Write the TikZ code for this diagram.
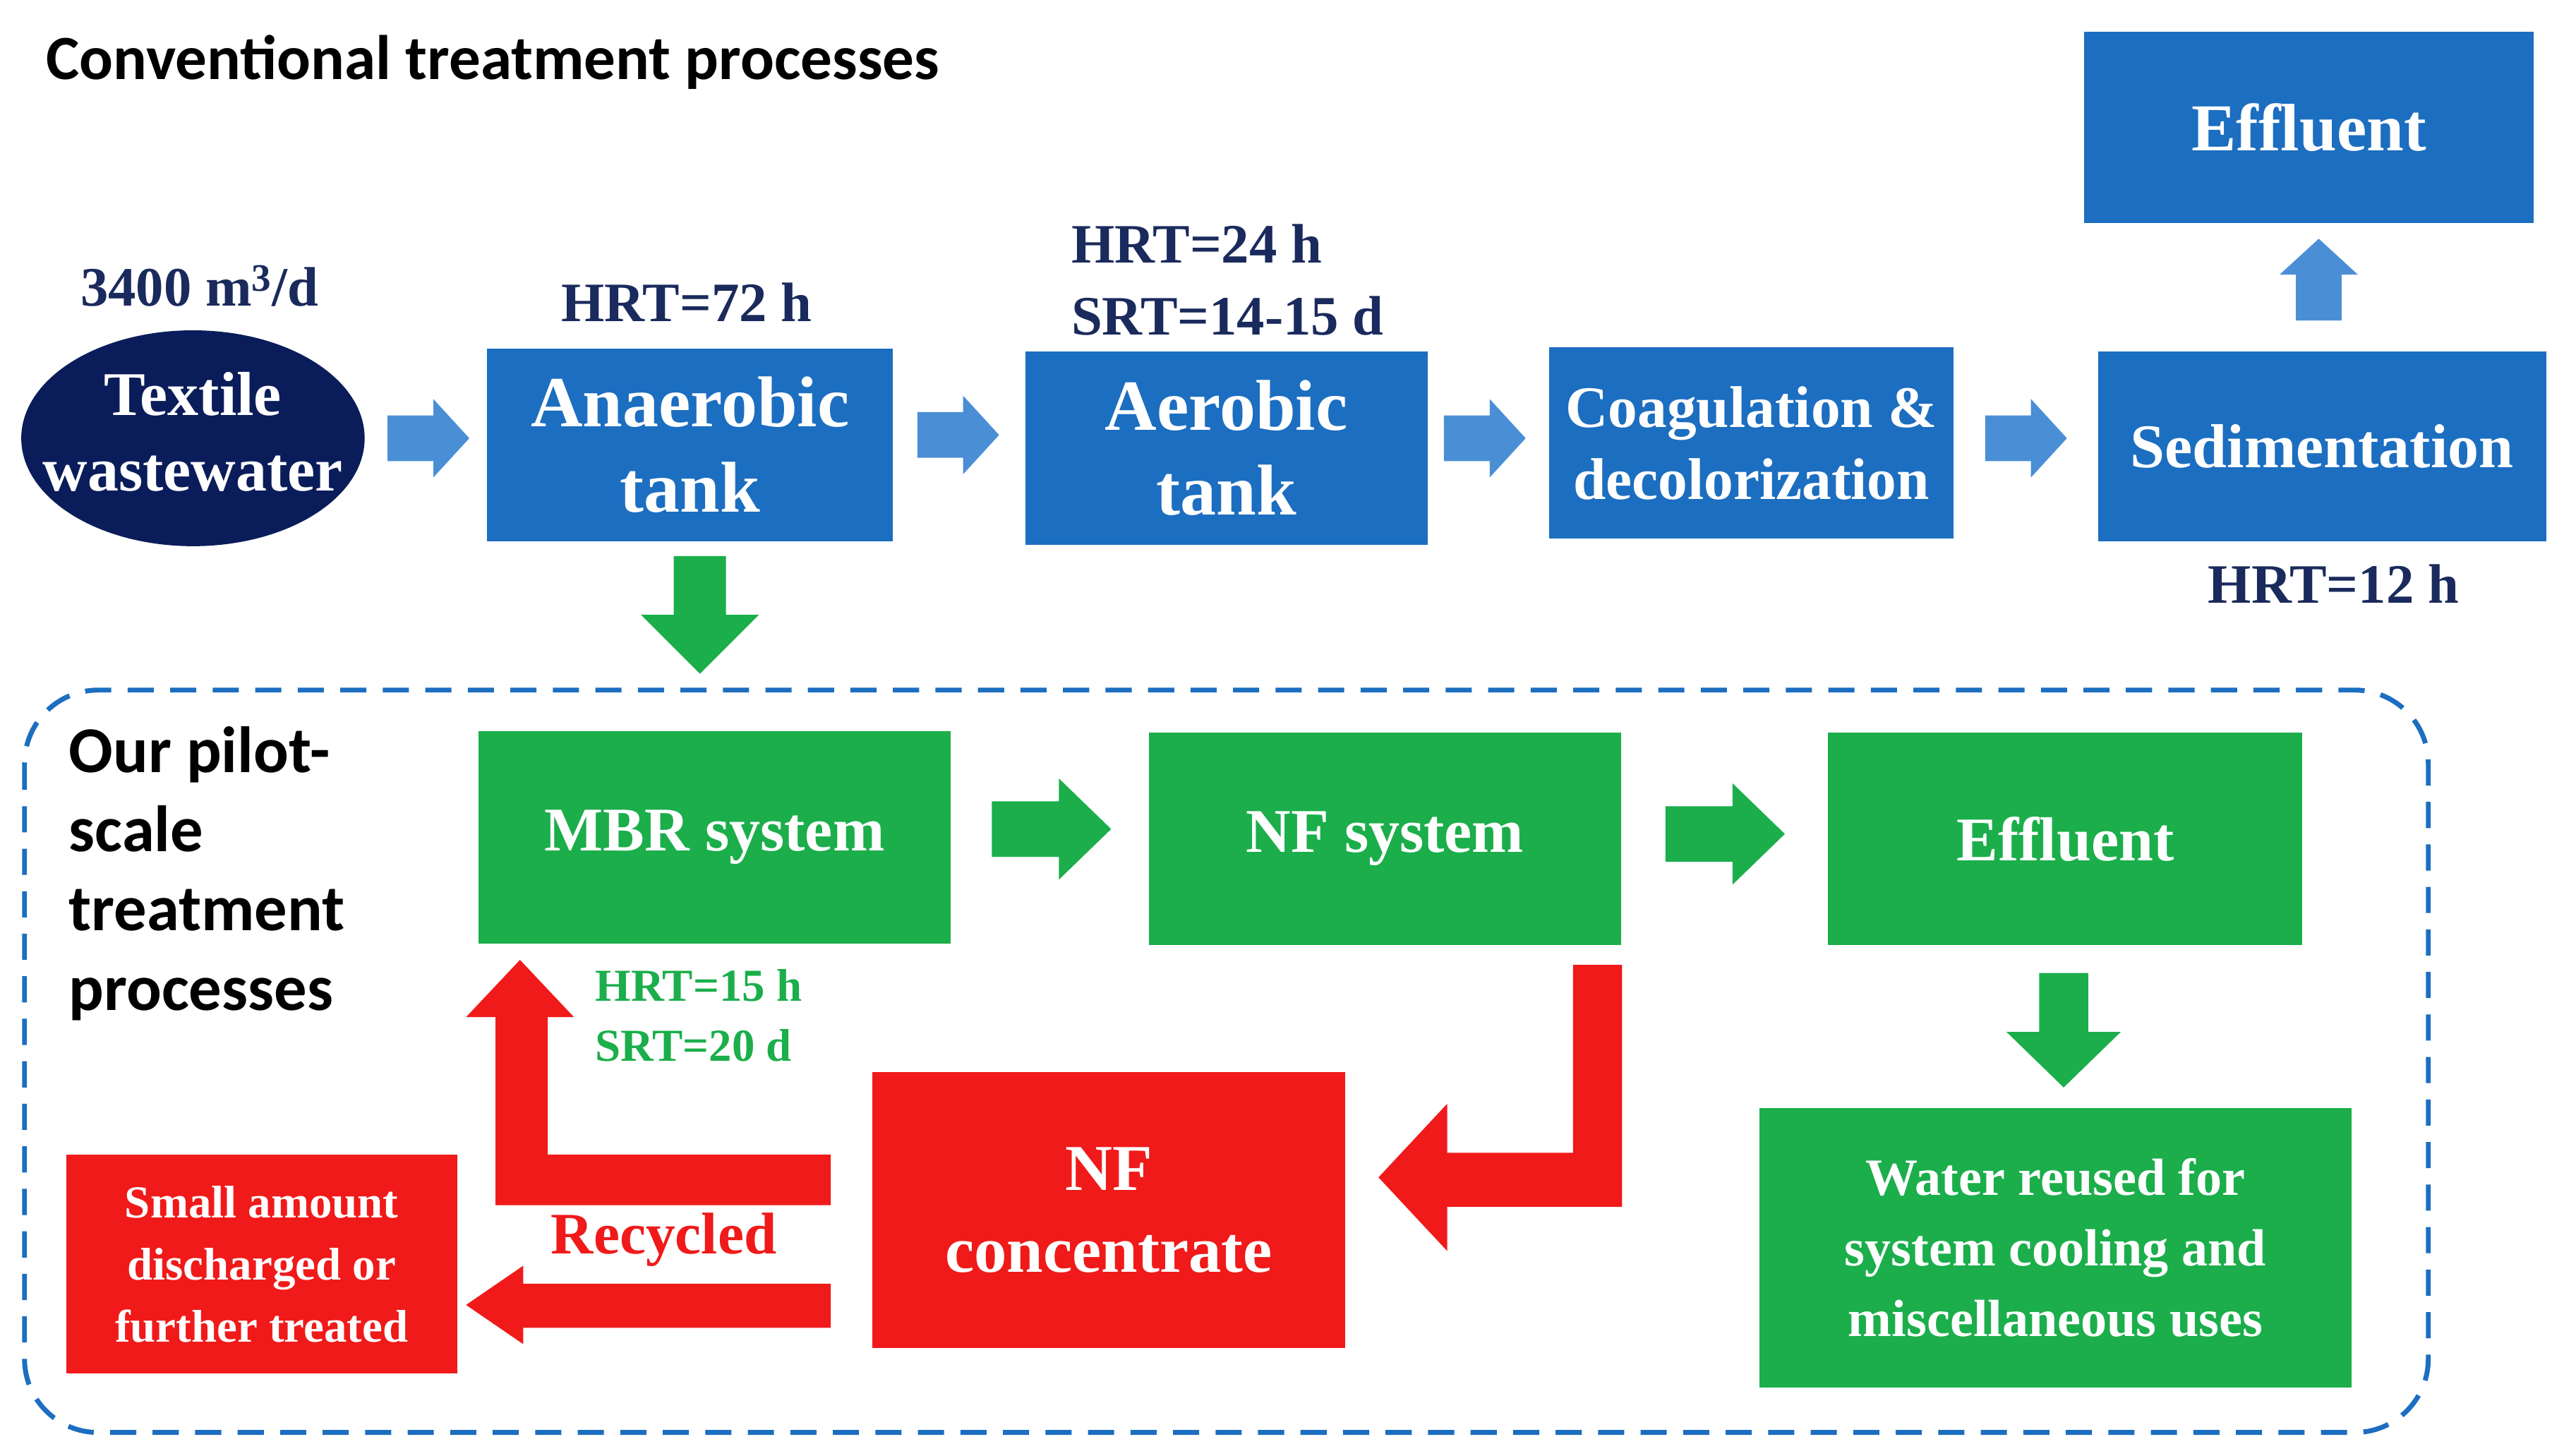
\documentclass[tikz,border=0pt]{standalone}
\usepackage{fontspec}
\setmainfont{Liberation Serif}
\newfontfamily\sans{Carlito}
\usetikzlibrary{shapes.geometric}
\definecolor{bbox}{HTML}{1C6EC0}
\definecolor{barr}{HTML}{4A8FD6}
\definecolor{navy}{HTML}{0A1D5A}
\definecolor{navyt}{HTML}{1A2A5C}
\definecolor{gbox}{HTML}{1BAE4B}
\definecolor{rbox}{HTML}{F01A1A}
\tikzset{pics/blk/.style n args={5}{code={
  \fill[#5] (-#1/2,-#2/2) -- (#1/2-#4,-#2/2) -- (#1/2-#4,-#3/2) -- (#1/2,0) -- (#1/2-#4,#3/2) -- (#1/2-#4,#2/2) -- (-#1/2,#2/2) -- cycle;
}}}
\begin{document}
\begin{tikzpicture}[x=1pt,y=-1pt,
 box/.style={draw=none,inner sep=0,align=center,text=white,font=\bfseries},
 bb/.style={box,fill=bbox},
 gb/.style={box,fill=gbox},
 rb/.style={box,fill=rbox},
 lab/.style={font=\bfseries\fontsize{34}{40}\selectfont,text=navyt,inner sep=0},
]
\useasboundingbox (0,0) rectangle (1568,890);
\node[inner sep=0,anchor=west,font=\sans\bfseries\fontsize{38.5}{44}\selectfont] (title) at (28,38) {Conventional treatment processes};
\fill[navy] (118,268) ellipse [x radius=105pt, y radius=66pt];
\node[inner sep=0,align=center,text=white,font=\bfseries\fontsize{38}{46}\selectfont] (tw) at (118,264) {Textile\\wastewater};
\node[lab] (q) at (122,175) {3400 m\textsuperscript{3}/d};
\node[bb,minimum width=248pt,minimum height=118pt,font=\bfseries\fontsize{44}{52}\selectfont] (an) at (422,272) {Anaerobic\\tank};
\node[lab] (h1) at (420,185) {HRT=72 h};
\node[bb,minimum width=246pt,minimum height=118pt,font=\bfseries\fontsize{44}{52}\selectfont] (ae) at (750,274) {Aerobic\\tank};
\node[lab,align=left,anchor=west,font=\bfseries\fontsize{34}{44}\selectfont] (h2) at (655,171) {HRT=24 h\\SRT=14-15 d};
\node[bb,minimum width=247pt,minimum height=117pt,font=\bfseries\fontsize{36}{44}\selectfont] (co) at (1071,271) {Coagulation \&\\decolorization};
\node[bb,minimum width=274pt,minimum height=116pt,font=\bfseries\fontsize{38}{46}\selectfont] (se) at (1420,273) {Sedimentation};
\node[lab] (h3) at (1427,357) {HRT=12 h};
\node[bb,minimum width=275pt,minimum height=117pt,font=\bfseries\fontsize{41}{48}\selectfont] (ef1) at (1412,78) {Effluent};
\pic at (262,268) {blk={50}{28}{48}{22}{barr}};
\pic at (586,266) {blk={50}{28}{48}{22}{barr}};
\pic at (908,268) {blk={50}{28}{48}{22}{barr}};
\pic at (1239,268) {blk={50}{28}{48}{22}{barr}};
\pic[rotate=90] at (1418,171) {blk={50}{28}{48}{22}{barr}};
\pic[rotate=-90] at (428,376) {blk={72}{32}{72}{36}{gbox}};
\draw[bbox,line width=3pt,dash pattern=on 16pt off 10pt,rounded corners=45pt] (15,422) rectangle (1485,876);
\node[inner sep=0,anchor=north west,align=left,font=\sans\bfseries\fontsize{40}{48.5}\selectfont] (pilot) at (42,444) {Our pilot-\\scale\\treatment\\processes};
\node[gb,minimum width=289pt,minimum height=130pt,font=\bfseries\fontsize{38}{46}\selectfont] (mbr) at (437,512) {MBR system};
\node[gb,minimum width=289pt,minimum height=130pt,font=\bfseries\fontsize{38}{46}\selectfont] (nf) at (847,513) {NF system};
\node[gb,minimum width=290pt,minimum height=130pt,font=\bfseries\fontsize{38}{46}\selectfont] (ef2) at (1263,513) {Effluent};
\pic at (643,507) {blk={73}{34}{62}{32}{gbox}};
\pic at (1055,510) {blk={73}{34}{62}{32}{gbox}};
\pic[rotate=-90] at (1262,630) {blk={70}{30}{70}{34}{gbox}};
\node[gb,minimum width=362pt,minimum height=171pt,font=\bfseries\fontsize{32}{43}\selectfont] (wr) at (1257,763) {Water reused for\\system cooling and\\miscellaneous uses};
\node[inner sep=0,align=left,anchor=west,text=gbox,font=\bfseries\fontsize{28}{37}\selectfont] (h4) at (364,621) {HRT=15 h\\SRT=20 d};
\node[rb,minimum width=289pt,minimum height=169pt,font=\bfseries\fontsize{40}{50}\selectfont] (nfc) at (678,740) {NF\\concentrate};
\node[rb,minimum width=239pt,minimum height=134pt,font=\bfseries\fontsize{28}{38}\selectfont] (sm) at (160,773) {Small amount\\discharged or\\further treated};
\node[inner sep=0,text=rbox,font=\bfseries\fontsize{36}{40}\selectfont] (rec) at (406,758) {Recycled};
\fill[rbox] (992,590) -- (992,738) -- (885,738) -- (885,765) -- (843,720) -- (885,675) -- (885,705) -- (962,705) -- (962,590) -- cycle;
\fill[rbox] (508,706) -- (508,737) -- (303,737) -- (303,622) -- (285,622) -- (318,587) -- (351,622) -- (335,622) -- (335,706) -- cycle;
\fill[rbox] (508,785) -- (508,812) -- (320,812) -- (320,822) -- (285,798) -- (320,774) -- (320,785) -- cycle;
\end{tikzpicture}
\end{document}
